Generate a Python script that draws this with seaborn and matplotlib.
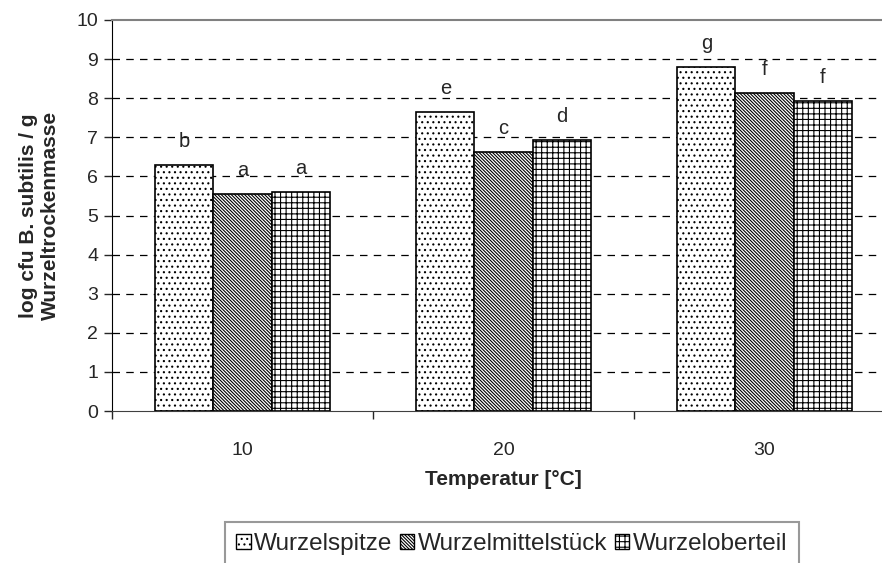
import matplotlib
matplotlib.use("Agg")
import matplotlib.pyplot as plt
from matplotlib.patches import Patch
import seaborn as sns
import pandas as pd

temperatures = ["10", "20", "30"]
parts = ["Wurzelspitze", "Wurzelmittelstück", "Wurzeloberteil"]
wurzelspitze = [6.29, 7.65, 8.80]
wurzelmittelstueck = [5.55, 6.62, 8.13]
wurzeloberteil = [5.60, 6.93, 7.93]
letters_spitze = ["b", "e", "g"]
letters_mittel = ["a", "c", "f"]
letters_ober = ["a", "d", "f"]

rows = []
for i, t in enumerate(temperatures):
    rows.append((t, parts[0], wurzelspitze[i]))
    rows.append((t, parts[1], wurzelmittelstueck[i]))
    rows.append((t, parts[2], wurzeloberteil[i]))
df = pd.DataFrame(rows, columns=["Temperatur", "Teil", "Wert"])

sns.set_style("white")
plt.rcParams["font.family"] = ["Liberation Sans", "DejaVu Sans"]
plt.rcParams["hatch.linewidth"] = 0.8

fig = plt.figure(figsize=(8.82, 5.63), dpi=100)
ax = fig.add_axes([112/882, 1-411/563, 783/882, 391/563])

hatches = {parts[0]: "...", parts[1]: "\\" * 10, parts[2]: "+++"}
sns.barplot(data=df, x="Temperatur", y="Wert", hue="Teil", order=temperatures,
            hue_order=parts, width=0.667, palette=["white"]*3,
            edgecolor="black", linewidth=1.2, ax=ax, legend=False, saturation=1)

letters = {parts[0]: letters_spitze, parts[1]: letters_mittel, parts[2]: letters_ober}
for k, container in enumerate(ax.containers):
    part = parts[k]
    for j, bar in enumerate(container):
        bar.set_hatch(hatches[part])
        bar.set_edgecolor("black")
        bar.set_zorder(3)
        ax.text(bar.get_x() + bar.get_width()/2, bar.get_height() + 0.6,
                letters[part][j], ha="center", va="center", fontsize=14.5)

ax.set_ylim(0, 10)
ax.set_xlim(-0.5, 2.5)
ax.set_yticks(range(0, 11))
ax.tick_params(axis="y", left=True, direction="out", length=6, width=1, labelsize=14, pad=4)
ax.set_xticks([0, 1, 2])
ax.set_xticklabels(temperatures)
ax.tick_params(axis="x", which="major", bottom=False, labelsize=14, pad=19)
ax.set_xticks([-0.5, 0.5, 1.5, 2.5], minor=True)
ax.tick_params(axis="x", which="minor", bottom=True, direction="out", length=6, width=1)

for yv in range(1, 10):
    ax.axhline(yv, color="black", linestyle=(0, (6, 5)), linewidth=0.9, zorder=1)
ax.spines["top"].set_color("#808080")
ax.spines["top"].set_linewidth(1.5)
ax.spines["left"].set_color("black")
ax.spines["bottom"].set_color("#404040")
ax.spines["right"].set_visible(False)

ax.set_ylabel("log cfu B. subtilis / g\nWurzeltrockenmasse", fontsize=15,
              fontweight="bold", labelpad=12, linespacing=1.15)
ax.set_xlabel("Temperatur [°C]", fontsize=15, fontweight="bold", labelpad=8)

handles = [Patch(facecolor="white", edgecolor="black", hatch=hatches[p], label=p) for p in parts]
leg = fig.legend(handles=handles, loc="upper left", bbox_to_anchor=(225/882, 1-522/563),
                 ncol=3, frameon=True, fontsize=17.5, handlelength=0.6, handleheight=0.6,
                 handletextpad=0.15, columnspacing=0.3, borderpad=0.45, borderaxespad=0,
                 fancybox=False)
leg.get_frame().set_edgecolor("#808080")
leg.get_frame().set_linewidth(1.5)

fig.savefig("out.png", dpi=100)
